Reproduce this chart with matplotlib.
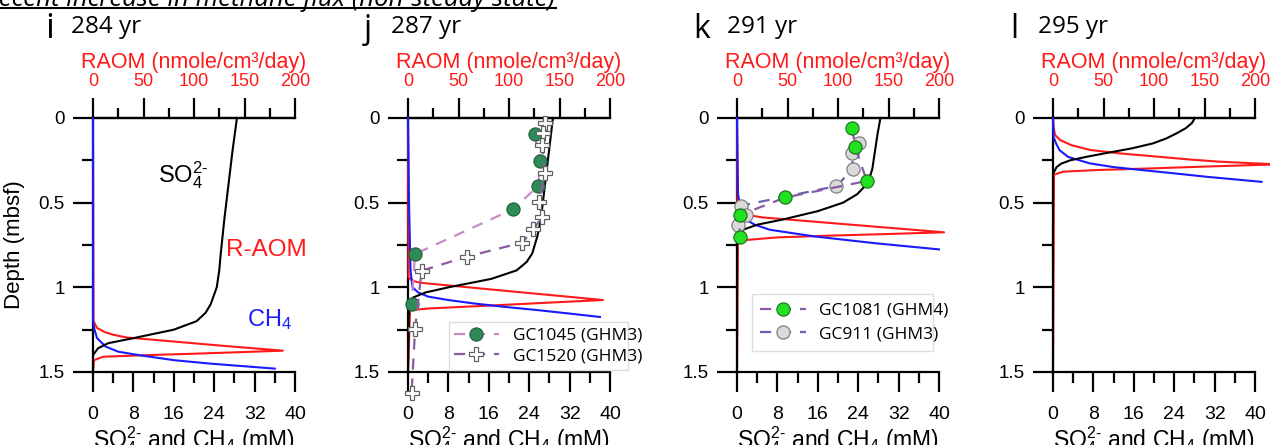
import matplotlib
matplotlib.use("Agg")
import matplotlib.pyplot as plt
from matplotlib.ticker import FixedLocator
from matplotlib.lines import Line2D

plt.rcParams['font.family'] = ['Liberation Sans', 'DejaVu Sans']
plt.rcParams['mathtext.fontset'] = 'custom'
plt.rcParams['mathtext.rm'] = 'Liberation Sans'
plt.rcParams['mathtext.it'] = 'Liberation Sans:italic'
plt.rcParams['mathtext.bf'] = 'Liberation Sans:bold'

# ---------------- data ----------------
panel_letters = ['i', 'j', 'k', 'l']
panel_years = ['284 yr', '287 yr', '291 yr', '295 yr']

# panel i
i_so4_d = [0, 0.2, 0.4, 0.6, 0.8, 0.9, 1.0, 1.1, 1.15, 1.2, 1.25, 1.3, 1.33, 1.36, 1.4, 1.5]
i_so4_v = [28.5, 27.6, 26.8, 26.0, 25.3, 25.0, 24.5, 23.3, 22.3, 20.5, 16.0, 8.0, 3.0, 1.0, 0, 0]
i_ch4_d = [0, 1.2, 1.25, 1.3, 1.35, 1.38, 1.4, 1.43, 1.45, 1.48]
i_ch4_v = [0, 0, 0.3, 0.8, 2.5, 5.0, 9.0, 16.0, 23.0, 36.0]
i_aom_d = [0, 1.2, 1.24, 1.265, 1.28, 1.296, 1.32, 1.345, 1.374, 1.383, 1.392, 1.4, 1.41, 1.43, 1.5]
i_aom_v = [0, 0.5, 4, 12, 20, 33, 80, 128, 188, 145, 100, 55, 10, 1, 0]

# panel j
j_so4_d = [0, 0.2, 0.4, 0.6, 0.7, 0.8, 0.85, 0.9, 0.95, 1.0, 1.03, 1.06, 1.1, 1.5]
j_so4_v = [28.7, 27.9, 27.1, 26.3, 25.6, 24.6, 23.5, 21.5, 16.5, 8.0, 3.5, 1.0, 0.2, 0]
j_ch4_d = [0, 0.5, 0.9, 1.0, 1.03, 1.055, 1.075, 1.095, 1.115, 1.134, 1.155, 1.175]
j_ch4_v = [0, 0.2, 0.5, 0.9, 2.0, 4.0, 8.0, 13.0, 19.0, 25.5, 32.0, 38.0]
j_aom_d = [0, 0.94, 0.955, 0.965, 0.973, 1.0, 1.025, 1.05, 1.075, 1.085, 1.095, 1.105, 1.115, 1.125, 1.135, 1.5]
j_aom_v = [0, 0.5, 3, 7, 12, 60, 104, 149, 193, 158, 124, 90, 55, 20, 2, 0]
gc1045_d = [0.097, 0.252, 0.402, 0.54, 0.803, 1.10]
gc1045_v = [25.1, 26.1, 25.8, 20.7, 1.4, 0.7]
gc1520_d = [0.031, 0.09, 0.16, 0.323, 0.494, 0.583, 0.658, 0.736, 0.819, 0.902, 1.248, 1.626]
gc1520_v = [27.1, 26.8, 26.6, 27.1, 26.0, 26.6, 24.8, 22.6, 11.6, 2.7, 1.4, 0.7]

# panel k
k_so4_d = [0, 0.1, 0.2, 0.3, 0.36, 0.4, 0.45, 0.5, 0.55, 0.6, 0.63, 0.66, 0.7, 1.5]
k_so4_v = [28.4, 27.8, 27.3, 26.8, 26.2, 25.4, 23.8, 21.0, 16.0, 9.0, 4.0, 1.2, 0, 0]
k_ch4_d = [0, 0.45, 0.55, 0.6, 0.63, 0.66, 0.7, 0.74, 0.776]
k_ch4_v = [0, 0.2, 0.8, 1.8, 3.5, 6.5, 15.5, 27.5, 40.0]
k_aom_d = [0, 0.55, 0.565, 0.575, 0.587, 0.61, 0.63, 0.65, 0.675, 0.685, 0.695, 0.705, 0.72, 0.735, 1.5]
k_aom_v = [0, 0.5, 5, 13, 25, 72, 113, 154, 205, 150, 90, 40, 10, 1, 0]
gc1081_d = [0.061, 0.169, 0.372, 0.469, 0.573, 0.701]
gc1081_v = [22.8, 23.4, 25.7, 9.6, 0.6, 0.5]
gc911_d = [0.15, 0.205, 0.303, 0.402, 0.518, 0.573, 0.632]
gc911_v = [24.2, 22.8, 22.9, 19.7, 0.8, 1.8, 0.1]

# panel l
l_so4_d = [0, 0.03, 0.06, 0.09, 0.12, 0.15, 0.18, 0.21, 0.23, 0.25, 0.27, 0.29, 0.33, 1.5]
l_so4_v = [28.1, 27.5, 26.3, 24.5, 22.5, 19.8, 15.5, 10.0, 6.5, 3.4, 1.6, 0.7, 0, 0]
l_ch4_d = [0, 0.11, 0.15, 0.19, 0.23, 0.268, 0.29, 0.308, 0.33, 0.347, 0.377]
l_ch4_v = [0, 0.1, 0.6, 1.3, 3.0, 7.3, 12.0, 17.8, 25.0, 30.4, 41.3]
l_aom_d = [0, 0.05, 0.1, 0.13, 0.16, 0.189, 0.21, 0.228, 0.245, 0.258, 0.274, 0.285, 0.297, 0.307, 0.317, 0.335, 1.5]
l_aom_v = [0, 0.5, 2, 7, 18, 37, 68, 103, 135, 165, 222, 160, 100, 45, 10, 1, 0]

conc_ticks = [0, 8, 16, 24, 32, 40]
raom_ticks = [0, 50, 100, 150, 200]
depth_ticks = [0, 0.5, 1, 1.5]
depth_labels = ['0', '0.5', '1', '1.5']

panels = [
    (i_so4_d, i_so4_v, i_ch4_d, i_ch4_v, i_aom_d, i_aom_v),
    (j_so4_d, j_so4_v, j_ch4_d, j_ch4_v, j_aom_d, j_aom_v),
    (k_so4_d, k_so4_v, k_ch4_d, k_ch4_v, k_aom_d, k_aom_v),
    (l_so4_d, l_so4_v, l_ch4_d, l_ch4_v, l_aom_d, l_aom_v),
]

# ---------------- figure ----------------
W, H = 1270, 445
fig = plt.figure(figsize=(W / 100, H / 100), dpi=100)

x0s = [93, 408, 737, 1053]
letter_x = [45, 364, 693, 1010]
year_x = [71, 391, 727, 1038]
letter_size = [25, 23, 23, 23]
axw = 202
ytop, ybot = 118, 372

RED = '#ff1a1a'
BLUE = '#1a1aff'


def fx(px):
    return px / W


def fy(py):
    return 1 - py / H


axes = []
for idx, (x0, data) in enumerate(zip(x0s, panels)):
    so4_d, so4_v, ch4_d, ch4_v, aom_d, aom_v = data
    ax = fig.add_axes([fx(x0), fy(ybot), axw / W, (ybot - ytop) / H])
    ax.set_xlim(0, 40)
    ax.set_ylim(1.5, 0)
    ax.patch.set_alpha(0)
    ax.spines['right'].set_visible(False)
    for s in ['left', 'top', 'bottom']:
        ax.spines[s].set_linewidth(1.6)
    ax.xaxis.set_major_locator(FixedLocator(conc_ticks))
    ax.xaxis.set_minor_locator(FixedLocator([4, 12, 20, 28, 36]))
    ax.yaxis.set_major_locator(FixedLocator(depth_ticks))
    ax.yaxis.set_minor_locator(FixedLocator([0.25, 0.75, 1.25]))
    ax.set_yticklabels(depth_labels)
    ax.tick_params(axis='x', which='major', direction='out', length=14.5, width=1.6,
                   labelsize=14, pad=10, top=False, bottom=True)
    ax.tick_params(axis='x', which='minor', direction='out', length=8, width=1.6, top=False)
    ax.tick_params(axis='y', which='major', direction='out', length=14.5, width=1.6,
                   labelsize=13.5, pad=6)
    ax.tick_params(axis='y', which='minor', direction='out', length=8, width=1.6)
    ax.set_xlabel(r'$\mathregular{SO_4^{2\text{-}}}$ and $\mathregular{CH_4}$ (mM)',
                  fontsize=16.5, labelpad=1)

    # top secondary axis (RAOM)
    sec = ax.secondary_xaxis('top', functions=(lambda x: x * 5, lambda x: x / 5))
    sec.xaxis.set_major_locator(FixedLocator(raom_ticks))
    sec.xaxis.set_minor_locator(FixedLocator([25, 75, 125, 175]))
    sec.tick_params(axis='x', which='major', direction='out', length=14.5, width=1.6,
                    labelsize=13, pad=6, labelcolor=RED)
    sec.tick_params(axis='x', which='minor', direction='out', length=7, width=1.6)
    sec.spines['top'].set_linewidth(1.6)
    sec.set_xlabel('RAOM (nmole/cm³/day)', color=RED, fontsize=15.5, labelpad=3)

    # curves
    ax.plot([v / 5 for v in aom_v], aom_d, color=RED, lw=1.5, clip_on=False, zorder=3)
    ax.plot(ch4_v, ch4_d, color=BLUE, lw=1.5, clip_on=False, zorder=3)
    ax.plot(so4_v, so4_d, color='black', lw=1.5, clip_on=False, zorder=4)
    if idx == 0:
        ax.set_ylabel('Depth (mbsf)', fontsize=16)
        ax.yaxis.set_label_coords(-0.335, 0.5)
    axes.append(ax)

    # panel letters and ages
    fig.text(fx(letter_x[idx]), fy(38), panel_letters[idx], fontsize=letter_size[idx],
             family='Open Sans', ha='left', va='baseline')
    fig.text(fx(year_x[idx]), fy(33), panel_years[idx], fontsize=17.5, family='Open Sans',
             ha='left', va='baseline')

# panel i annotations
ax = axes[0]
ax.text(17.8, 0.34, r'$\mathregular{SO_4^{2\text{-}}}$', fontsize=17, ha='center', va='center')
ax.text(34.3, 0.78, 'R-AOM', fontsize=17.5, color=RED, ha='center', va='center')
ax.text(35, 1.19, r'$\mathregular{CH_4}$', fontsize=17, color=BLUE, ha='center', va='center')

# panel j measured
ax = axes[1]
ax.plot(gc1045_v, gc1045_d, ls=(0, (5, 4)), color='#c88ac8', lw=1.6, marker='o', ms=9.5,
        mfc='#2e8b57', mec='#1f5f3a', mew=0.8, zorder=5, clip_on=False)
ax.plot(gc1520_v, gc1520_d, ls=(0, (5, 4)), color='#8c5aa0', lw=1.6, marker='P', ms=9.5,
        mfc='white', mec='#606060', mew=0.9, zorder=5, clip_on=False)
h1 = Line2D([], [], ls=(0, (5, 4)), color='#c88ac8', lw=1.6, marker='o', ms=9.5,
            mfc='#2e8b57', mec='#1f5f3a', mew=0.8)
h2 = Line2D([], [], ls=(0, (5, 4)), color='#8c5aa0', lw=1.6, marker='P', ms=9.5,
            mfc='white', mec='#606060', mew=0.9)
leg = fig.legend([h1, h2], ['GC1045 (GHM3)', 'GC1520 (GHM3)'],
                 bbox_to_anchor=(fx(440), fy(372), 197 / W, 52 / H), loc='center',
                 prop={'family': 'Open Sans', 'size': 12.5}, handlelength=2.6,
                 fancybox=False, framealpha=1, edgecolor='#dddddd', borderpad=0.3,
                 labelspacing=0.25, handletextpad=0.8, mode='expand')
leg.get_frame().set_linewidth(1.0)

# panel k measured
ax = axes[2]
ax.plot(gc1081_v, gc1081_d, ls=(0, (5, 4)), color='#8a5aa8', lw=1.6, marker='o', ms=9.5,
        mfc='#22e022', mec='#1a6a1a', mew=0.8, zorder=6, clip_on=False)
ax.plot(gc911_v, gc911_d, ls=(0, (5, 4)), color='#6a62b0', lw=1.6, marker='o', ms=9.5,
        mfc='#d9d9d9', mec='#808080', mew=0.9, zorder=5, clip_on=False)
h3 = Line2D([], [], ls=(0, (5, 4)), color='#8a5aa8', lw=1.6, marker='o', ms=9.5,
            mfc='#22e022', mec='#1a6a1a', mew=0.8)
h4 = Line2D([], [], ls=(0, (5, 4)), color='#6a62b0', lw=1.6, marker='o', ms=9.5,
            mfc='#d9d9d9', mec='#808080', mew=0.9)
leg2 = fig.legend([h3, h4], ['GC1081 (GHM4)', 'GC911 (GHM3)'],
                  bbox_to_anchor=(fx(743), fy(353), 199 / W, 61 / H), loc='center',
                  prop={'family': 'Open Sans', 'size': 12.5}, handlelength=2.6,
                  fancybox=False, framealpha=1, edgecolor='#dddddd', borderpad=0.5,
                  labelspacing=0.45, handletextpad=0.8, mode='expand')
leg2.get_frame().set_linewidth(1.0)

# title (clipped at top of figure)
fig.text(fx(-16), fy(6), 'Recent increase in methane flux (non-steady state)', fontsize=18.5,
         style='italic', family='Open Sans', ha='left', va='baseline')
fig.add_artist(Line2D([0, fx(556)], [fy(7.5), fy(7.5)], color='black', lw=1.5))

fig.savefig('out.png', dpi=100)
